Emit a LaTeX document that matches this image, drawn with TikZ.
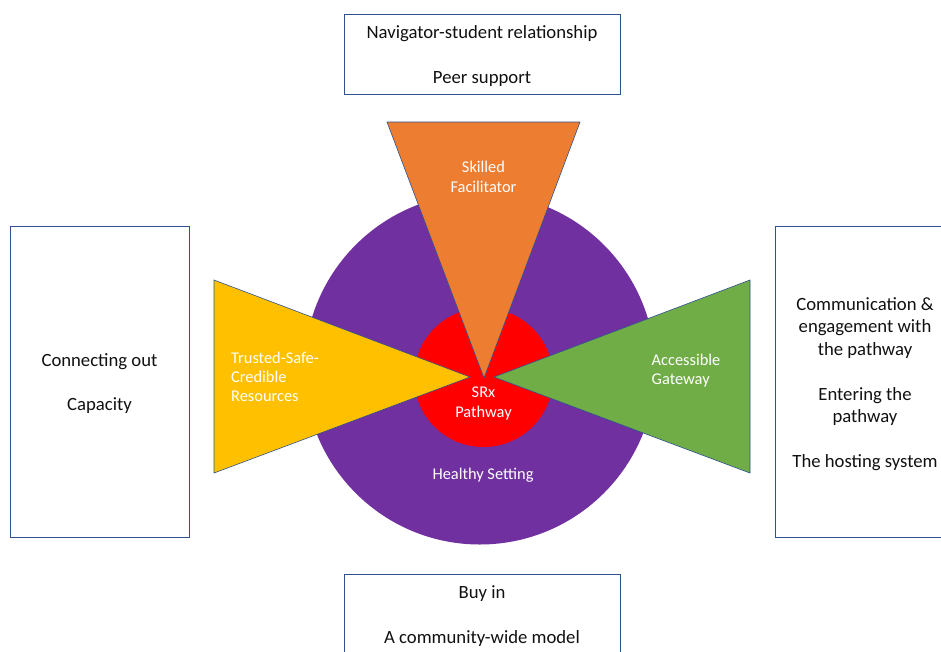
\documentclass[tikz,border=0pt]{standalone}
\usepackage{fontspec}
\setmainfont{Carlito}
\definecolor{boxline}{HTML}{2F528F}
\definecolor{purp}{HTML}{7030A0}
\definecolor{orng}{HTML}{ED7D31}
\definecolor{gold}{HTML}{FFC000}
\definecolor{grn}{HTML}{70AD47}
\definecolor{txt}{HTML}{111111}
\tikzset{x=1pt,y=-1pt,
 infobox/.style={draw=boxline,line width=0.9pt,fill=white,minimum width=0pt},
 lab/.style={font=\fontsize{16.4}{20}\selectfont,align=center,text=white,inner sep=0pt},
 labl/.style={lab,align=left,anchor=west,font=\fontsize{16.4}{19.2}\selectfont},
 boxtxt/.style={font=\fontsize{18.7}{22.4}\selectfont,align=center,text=txt,inner sep=0pt},
 wedge/.style={draw=boxline,line width=0.6pt}}
\begin{document}
\begin{tikzpicture}
\useasboundingbox (0,0) rectangle (941,651);
\fill[white] (0,0) rectangle (941,651);
\draw[infobox] (344.5,14.5) rectangle (620.5,94.5);
\draw[infobox] (344.5,574.5) rectangle (620.5,660);
\draw[infobox] (10.5,226.5) rectangle (189.5,537.5);
\draw[infobox] (775.5,226.5) rectangle (960,537.5);
\node[circle,fill=purp,minimum size=351pt,inner sep=0pt] (outer) at (479.8,369) {};
\node[circle,fill=red,minimum size=139pt,inner sep=0pt] (inner) at (483.5,377.5) {};
\draw[wedge,fill=orng] (387,122) -- (580,122) -- (484,378) -- cycle;
\draw[wedge,fill=gold] (214,280) -- (470,377) -- (214,473) -- cycle;
\draw[wedge,fill=grn] (750,280) -- (494,377) -- (750,473) -- cycle;
\node[lab] (sf) at (483.5,177) {Skilled\\Facilitator};
\node[labl] (tr) at (231,377) {Trusted-Safe-\\Credible\\Resources};
\node[labl] (ag) at (651.5,371) {Accessible\\Gateway};
\node[lab] (sx) at (483.5,403.5) {SRx\\Pathway};
\node[lab] (hs) at (483,475.5) {Healthy Setting};
\node[boxtxt] (t1) at (482,56) {Navigator-student relationship\\ \\Peer support};
\node[boxtxt] (t2) at (482,616) {Buy in\\ \\A community-wide model};
\node[boxtxt] (t3) at (99.5,383.5) {Connecting out\\ \\Capacity};
\node[boxtxt] (t4) at (865,384) {Communication \&\\engagement with\\the pathway\\ \\Entering the\\pathway\\ \\The hosting system};
\end{tikzpicture}
\end{document}
